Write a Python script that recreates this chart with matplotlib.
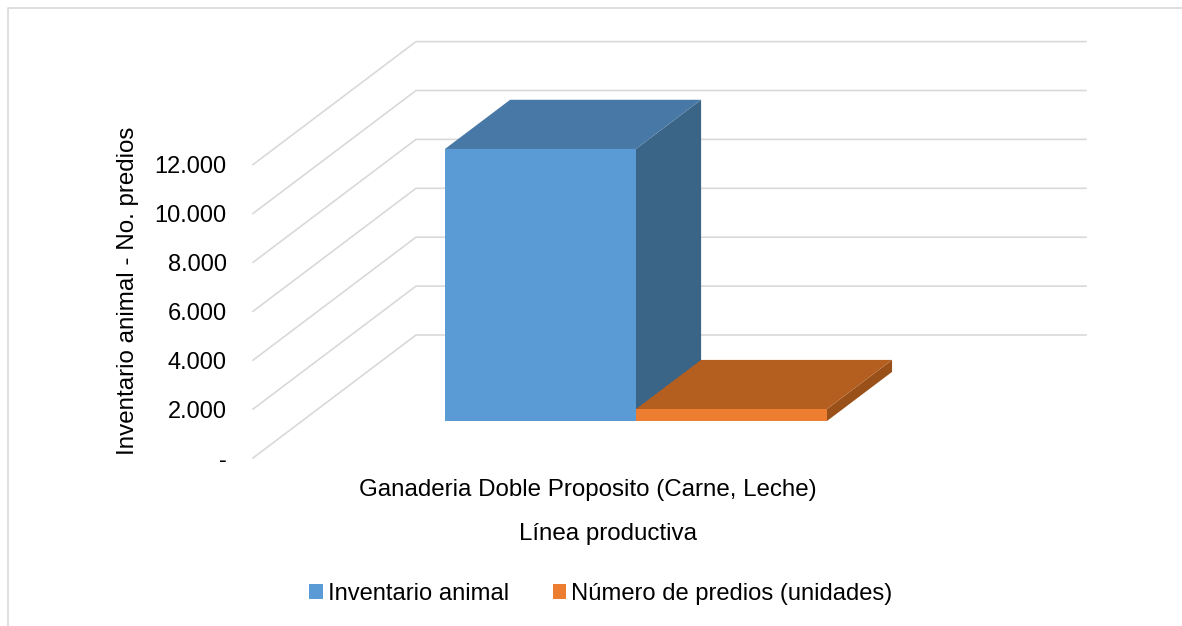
import matplotlib
matplotlib.use("Agg")
import matplotlib.pyplot as plt
from matplotlib.patches import Patch

categoria = ["Ganaderia Doble Proposito (Carne, Leche)"]
series = ["Inventario animal", "Número de predios (unidades)"]
valores = [11130, 490]
ticks = [0, 2000, 4000, 6000, 8000, 10000, 12000]
tick_labels = ["-", "2.000", "4.000", "6.000", "8.000", "10.000", "12.000"]

W, H = 1182, 626
frente = ["#5B9BD5", "#ED7D31"]
techo = ["#4878A6", "#B45F20"]
lado = ["#3A6587", "#9A5119"]
gris = "#D9D9D9"

plt.rcParams["font.family"] = ["Liberation Sans", "DejaVu Sans"]
plt.rcParams["font.size"] = 17.4

fig = plt.figure(figsize=(W / 100, H / 100), dpi=100)
# axes in pixels: the first 670 px wide are the category band
left, right, top, bottom = 253, 1086, 41, 458
ax = fig.add_axes([left / W, 1 - bottom / H, (right - left) / W, (bottom - top) / H])
px_per_unit = 48.9 / 2000
ax.set_xlim(0, (right - left) / 670)
ax.set_ylim(0, (bottom - top) / px_per_unit)

# oblique depth: what one full depth adds to x and to the value axis
depth_x = 163 / 670
depth_y = 123 / px_per_unit


def pt(x, v, d):
    return x + d * depth_x, v + d * depth_y


# walls
for t in ticks:
    a = pt(0, t, 0)
    b = pt(0, t, 1)
    c = pt(1, t, 1)
    ax.plot([a[0], b[0], c[0]], [a[1], b[1], c[1]], color=gris, lw=1.2,
            solid_joinstyle="miter", clip_on=False, zorder=1)

# bars, depth from 0.3 to 0.7
ancho = 0.285
inicio = 0.2135
d0, d1 = 0.3, 0.7
for i, v in enumerate(valores):
    x0 = inicio + i * ancho
    x1 = x0 + ancho
    caras = [
        ([pt(x1, 0, d0), pt(x1, 0, d1), pt(x1, v, d1), pt(x1, v, d0)], lado[i]),
        ([pt(x0, v, d0), pt(x1, v, d0), pt(x1, v, d1), pt(x0, v, d1)], techo[i]),
        ([pt(x0, 0, d0), pt(x1, 0, d0), pt(x1, v, d0), pt(x0, v, d0)], frente[i]),
    ]
    for pts, col in caras:
        ax.fill([p[0] for p in pts], [p[1] for p in pts], color=col, lw=0, zorder=2 + i)

for s in ax.spines.values():
    s.set_visible(False)
ax.patch.set_visible(False)
ax.set_yticks(ticks)
ax.set_yticklabels(tick_labels)
ax.set_xticks([0.5])
ax.set_xticklabels(categoria)
ax.tick_params(axis="y", length=0, pad=19, labelsize=17)
ax.tick_params(axis="x", length=0, pad=15)
ax.set_ylabel("Inventario animal - No. predios")
ax.yaxis.set_label_coords((139 - left) / (right - left), (bottom - 291) / (bottom - top))
ax.set_xlabel("Línea productiva")
ax.xaxis.set_label_coords((608 - left) / (right - left), (bottom - 534) / (bottom - top))
ax.xaxis.label.set_verticalalignment("center")

handles = [Patch(color=frente[0], lw=0), Patch(color=frente[1], lw=0)]
fig.legend(handles, series, ncol=2, loc="center", bbox_to_anchor=(601 / W, 1 - 594 / H),
           frameon=False, fontsize=17.1, handlelength=0.56, handleheight=0.56, handletextpad=0.22,
           columnspacing=1.85, borderpad=0)

# chart frame, cut off by the picture on the right and at the bottom
fig.add_artist(plt.Line2D([8 / W, 8 / W, 1], [0, 1 - 7.5 / H, 1 - 7.5 / H], color=gris, lw=1.2))

fig.savefig("out.png", dpi=100)
